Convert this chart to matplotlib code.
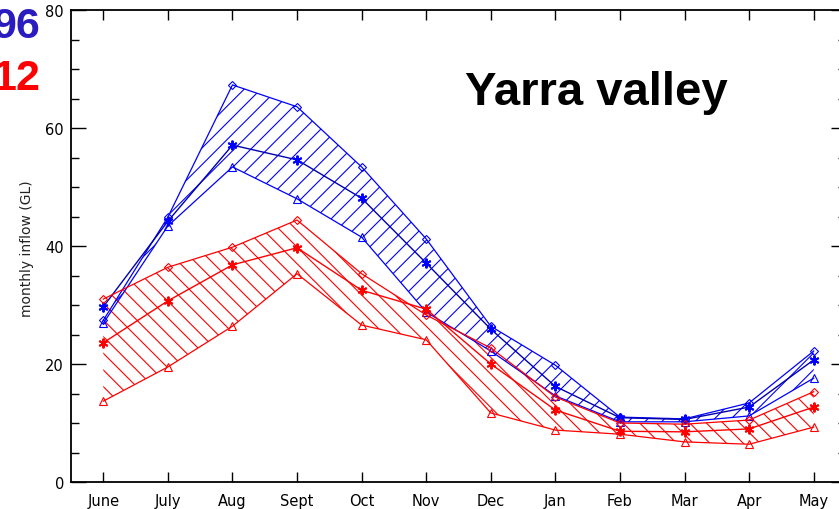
import numpy as np
import matplotlib
matplotlib.use('Agg')
import matplotlib.pyplot as plt
from matplotlib.ticker import MultipleLocator

# monthly inflow (GL)
months = ['June', 'July', 'Aug', 'Sept', 'Oct', 'Nov', 'Dec',
          'Jan', 'Feb', 'Mar', 'Apr', 'May']
blue_hi = [27.4, 44.9, 67.3, 63.6, 53.4, 41.2, 26.4, 19.8, 11.0, 10.7, 13.4, 22.2]
blue_mean = [29.7, 44.2, 57.1, 54.6, 48.1, 37.1, 25.9, 16.2, 10.9, 10.6, 12.7, 20.7]
blue_lo = [26.9, 43.4, 53.4, 48.0, 41.5, 28.8, 22.2, 14.6, 10.2, 10.2, 11.2, 17.6]
red_hi = [31.0, 36.4, 39.8, 44.4, 35.3, 28.3, 22.7, 14.4, 10.0, 9.8, 10.5, 15.3]
red_mean = [23.6, 30.7, 36.8, 39.7, 32.5, 29.3, 20.0, 12.2, 8.6, 8.5, 9.0, 12.7]
red_lo = [13.7, 19.5, 26.4, 35.3, 26.6, 24.1, 11.7, 8.8, 8.1, 6.8, 6.4, 9.3]

plt.rcParams['font.family'] = ['DejaVu Sans']
plt.rcParams['hatch.linewidth'] = 0.8

W, H = 839, 510
fig = plt.figure(figsize=(W / 100, H / 100), dpi=100)
ax = fig.add_axes([71 / W, (H - 483) / H, (846 - 71) / W, (483 - 11) / H])

x = np.arange(len(months))
asterisk = (6, 2, 0)


def band(hi, mean, lo, col, mean_col, hatch):
    ax.fill_between(x, lo, hi, facecolor='none', edgecolor=col,
                    hatch=hatch, linewidth=0)
    ax.plot(x, hi, color=col, lw=0.9, marker='D', ms=4.5, mfc='none',
            mec=col, mew=0.8)
    ax.plot(x, lo, color=col, lw=0.9, marker='^', ms=6, mfc='none',
            mec=col, mew=0.8)
    ax.plot(x, mean, color=mean_col, lw=1.0, marker=asterisk, ms=7,
            mec=col, mew=1.4)


band(blue_hi, blue_mean, blue_lo, '#0000ff', '#0000b0', '//')
band(red_hi, red_mean, red_lo, '#ff0000', '#ff0000', '\\\\')

ax.set_xlim(-0.5, 11.5)
ax.set_ylim(0, 80)
ax.set_xticks(x)
ax.set_xticklabels(months, fontsize=10.5)
ax.yaxis.set_major_locator(MultipleLocator(20))
ax.yaxis.set_minor_locator(MultipleLocator(5))
ax.tick_params(axis='x', direction='in', length=7, width=1, top=True,
               pad=8, colors='black')
ax.tick_params(axis='y', which='major', direction='in', length=11, width=1,
               right=True, labelsize=10.5, pad=5)
ax.tick_params(axis='y', which='minor', direction='in', length=5.5, width=1,
               right=True)
for s in ax.spines.values():
    s.set_linewidth(1.3)

fig.text(27 / W, 1 - 249 / H, 'monthly inflow (GL)', rotation=90,
         ha='center', va='center', fontsize=10, color='#222222')

fig.text(465 / W, 1 - 105 / H, 'Yarra valley', fontsize=34,
         fontweight='bold', ha='left', va='baseline',
         family='Liberation Sans')
fig.text(40 / W, 1 - 38 / H, '96', fontsize=31, fontweight='bold',
         color='#2b1cc0', ha='right', va='baseline', family='Liberation Sans')
fig.text(40 / W, 1 - 90 / H, '12', fontsize=31, fontweight='bold',
         color='#ff0000', ha='right', va='baseline', family='Liberation Sans')

fig.savefig('out.png', dpi=100)
